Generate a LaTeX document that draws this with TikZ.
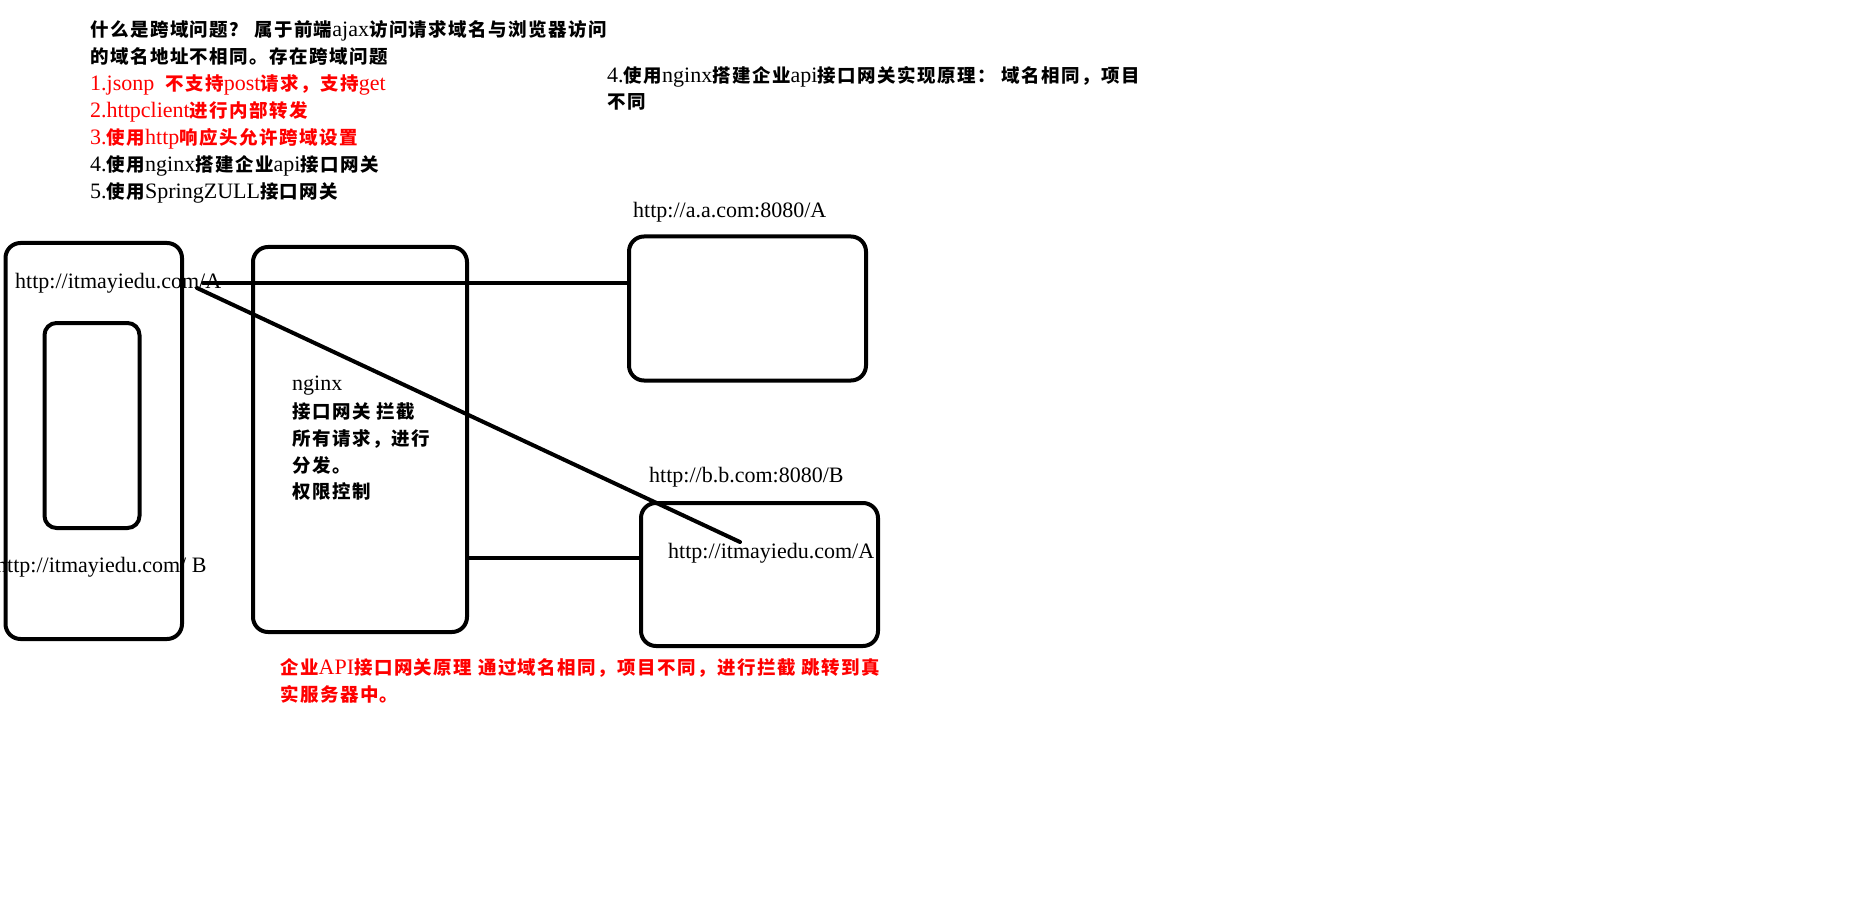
\documentclass[tikz,border=0pt]{standalone}
\usepackage{fontspec}
\setmainfont{Liberation Serif}
\newfontfamily\cjk[Scale=0.84,LetterSpace=8]{Noto Sans CJK SC}
\newcommand{\zh}[1]{{\cjk\bfseries #1}}
\definecolor{NoteRed}{RGB}{255, 0, 0}
\usetikzlibrary{positioning}

\begin{document}
\begin{tikzpicture}[x=1pt, y=-1pt,
        box/.style={draw, line width=4pt, rounded corners=15pt, inner sep=0pt},
        link/.style={line width=4pt, line cap=round},
        txt/.style={anchor=base west, inner sep=0pt, font=\fontsize{22}{27}\selectfont},
        note/.style={txt, text=NoteRed}
    ]
        \fill[white] (0,0) rectangle (1876,917);
        \useasboundingbox (0,0) rectangle (1876,917);

        % question and ways out
        \node[txt] (q1) at (90,37) {\zh{什么是跨域问题？ 属于前端}ajax\zh{访问请求域名与浏览器访问}};
        \node[txt] (q2) at (90,64) {\zh{的域名地址不相同。存在跨域问题}};
        \node[note] (way1) at (90,91) {1.jsonp\ \ \zh{不支持}post\zh{请求，支持}get};
        \node[note] (way2) at (90,118) {2.httpclient\zh{进行内部转发}};
        \node[note] (way3) at (90,145) {3.\zh{使用}http\zh{响应头允许跨域设置}};
        \node[txt] (way4) at (90,172) {4.\zh{使用}nginx\zh{搭建企业}api\zh{接口网关}};
        \node[txt] (way5) at (90,199) {5.\zh{使用}SpringZULL\zh{接口网关}};

        \node[txt] (idea1) at (607,83) {4.\zh{使用}nginx\zh{搭建企业}api\zh{接口网关实现原理： 域名相同，项目}};
        \node[txt] (idea2) at (607,109) {\zh{不同}};

        % boxes
        \node[box, minimum width=176.5pt, minimum height=396pt] (browser) at (93.75,441) {};
        \node[box, rounded corners=12pt, minimum width=95pt, minimum height=205pt] (page) at (92,425.5) {};
        \node[box, minimum width=214pt, minimum height=385pt] (nginx) at (360,439.5) {};
        \node[box, minimum width=237pt, minimum height=144pt] (srvA) at (747.5,308.5) {};
        \node[box, minimum width=237pt, minimum height=143pt] (srvB) at (759.5,574.5) {};

        % labels
        \node[txt] (urlA) at (15,288) {http://itmayiedu.com/A};
        \node[txt] (urlB) at (-4,572) {http://itmayiedu.com/ B};
        \node[txt] (lblA) at (633,218) {http://a.a.com:8080/A};
        \node[txt] (lblB) at (649,482) {http://b.b.com:8080/B};
        \node[txt] (fwdA) at (668,558) {http://itmayiedu.com/A};

        \node[txt] (gw1) at (292,390) {nginx};
        \node[txt] (gw2) at (292,418) {\zh{接口网关 拦截}};
        \node[txt] (gw3) at (292,445) {\zh{所有请求，进行}};
        \node[txt] (gw4) at (292,472) {\zh{分发。}};
        \node[txt] (gw5) at (292,498) {\zh{权限控制}};

        \node[note] (sum1) at (280,674) {\zh{企业}API\zh{接口网关原理 通过域名相同，项目不同，进行拦截 跳转到真}};
        \node[note] (sum2) at (280,701) {\zh{实服务器中。}};

        % connectors
        \coordinate (fromA) at (203,283);
        \coordinate (fromB) at (197,288);
        \coordinate (toB) at (740,542);
        \draw[link] (fromA) -- (srvA.west |- fromA);
        \draw[link] (fromB) -- (toB);
        \draw[link] (nginx.east |- fwdA.base) -- (srvB.west |- fwdA.base);
    \end{tikzpicture}
\end{document}
